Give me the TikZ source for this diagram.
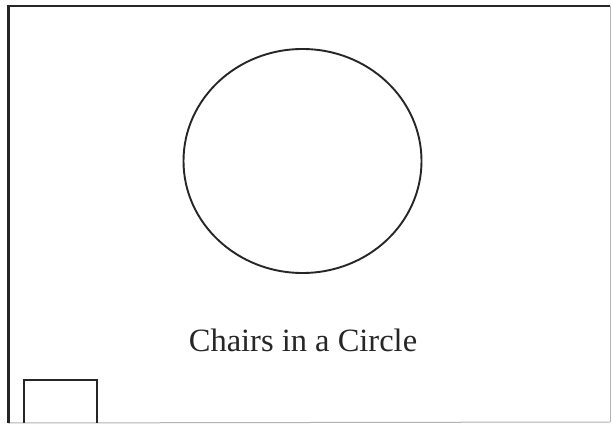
\documentclass[tikz,border=0pt]{standalone}
\usepackage{fontspec}
\setmainfont{Liberation Serif}
\usetikzlibrary{shapes.geometric}
\begin{document}
\begin{tikzpicture}[x=1pt,y=1pt,
  ink/.style={draw=black!85, line width=1.8pt},
  faint/.style={draw=black!30, line width=1pt},
  title/.style={font=\fontsize{32.5}{32.5}\selectfont, text=black!85, anchor=base, inner sep=0pt}]
\useasboundingbox[fill=white] (0,0) rectangle (612,423);
% frame
\coordinate (tl) at (8.3,417);
\coordinate (tr) at (610,417);
\coordinate (bl) at (8.3,0);
\coordinate (br) at (610,1);
\draw[faint] (tr) -- (br);
\draw[faint] (bl) -- (br);
\draw[draw=black!85, line width=2.6pt] (bl) -- (tl) -- (tr);
% circle
\node[ink, ellipse, minimum width=238pt, minimum height=224pt, inner sep=0pt, line width=1.9pt] (circ) at (302.5,262) {};
% label
\node[title] (lbl) at (303,71.5) {Chairs in a Circle};
% small square
\draw[ink, line width=2pt] (24,0) -- (24,43.3) -- (96.5,43.3) -- (96.5,0);
\end{tikzpicture}
\end{document}
